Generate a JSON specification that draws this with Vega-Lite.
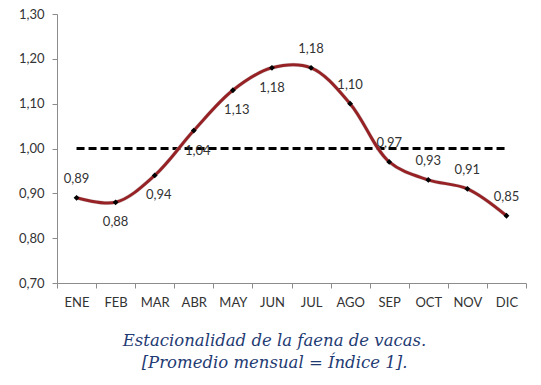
{
  "$schema": "https://vega.github.io/schema/vega-lite/v6.json",
  "width": 469,
  "height": 269,
  "padding": {"left": 18, "top": 8, "right": 8, "bottom": 8},
  "background": "white",
  "config": {
    "locale": {"number": {"decimal": ",", "thousands": ".", "grouping": [3], "currency": ["", " €"]}},
    "view": {"stroke": null},
    "font": "Lato"
  },
  "title": {
    "text": ["Estacionalidad de la faena de vacas.", "[Promedio mensual = Índice 1]."],
    "orient": "bottom",
    "anchor": "middle",
    "font": "DejaVu Serif",
    "fontStyle": "italic",
    "fontWeight": "normal",
    "fontSize": 16.5,
    "lineHeight": 22,
    "color": "#1F3B73",
    "offset": 24,
    "dx": -17
  },
  "data": {
    "values": [
      {"mes": "ENE", "indice": 0.89},
      {"mes": "FEB", "indice": 0.88},
      {"mes": "MAR", "indice": 0.94},
      {"mes": "ABR", "indice": 1.04},
      {"mes": "MAY", "indice": 1.13},
      {"mes": "JUN", "indice": 1.18},
      {"mes": "JUL", "indice": 1.18},
      {"mes": "AGO", "indice": 1.10},
      {"mes": "SEP", "indice": 0.97},
      {"mes": "OCT", "indice": 0.93},
      {"mes": "NOV", "indice": 0.91},
      {"mes": "DIC", "indice": 0.85}
    ]
  },
  "encoding": {
    "x": {
      "field": "mes",
      "type": "nominal",
      "sort": null,
      "scale": {"paddingInner": 0, "paddingOuter": 0},
      "axis": {
        "title": null,
        "labelAngle": 0,
        "labelFont": "Lato",
        "labelFontSize": 13,
        "labelColor": "#333333",
        "labelPadding": 8,
        "domainColor": "#8c8c8c",
        "tickColor": "#8c8c8c",
        "tickSize": 5,
        "tickBand": "extent",
        "grid": false
      }
    }
  },
  "layer": [
    {
      "mark": {"type": "line", "stroke": "#000000", "strokeWidth": 3, "strokeDash": [8, 4]},
      "encoding": {
        "y": {"datum": 1, "type": "quantitative"}
      }
    },
    {
      "mark": {"type": "line", "interpolate": "catmull-rom", "stroke": "#c8c8c8", "strokeWidth": 4, "opacity": 0.6, "dx": 1, "dy": 2},
      "encoding": {
        "y": {"field": "indice", "type": "quantitative"}
      }
    },
    {
      "mark": {"type": "line", "interpolate": "catmull-rom", "stroke": "#962226", "strokeWidth": 3},
      "encoding": {
        "y": {
          "field": "indice",
          "type": "quantitative",
          "scale": {"domain": [0.7, 1.3], "nice": false, "zero": false},
          "axis": {
            "title": null,
            "values": [0.7, 0.8, 0.9, 1.0, 1.1, 1.2, 1.3],
            "format": ".2f",
            "labelFont": "Lato",
            "labelFontSize": 13,
            "labelColor": "#333333",
            "labelPadding": 8,
            "domainColor": "#8c8c8c",
            "tickColor": "#8c8c8c",
            "tickSize": 5,
            "grid": false
          }
        }
      }
    },
    {
      "mark": {"type": "point", "shape": "diamond", "filled": true, "color": "#000000", "size": 34, "opacity": 1},
      "encoding": {
        "y": {"field": "indice", "type": "quantitative"}
      }
    },
    {
      "transform": [{"filter": {"field": "mes", "oneOf": ["ENE", "JUL", "AGO", "SEP", "OCT", "NOV", "DIC"]}}],
      "mark": {"type": "text", "fontSize": 13, "font": "Lato", "color": "#333333", "dy": -19},
      "encoding": {
        "y": {"field": "indice", "type": "quantitative"},
        "text": {"field": "indice", "type": "quantitative", "format": ".2f"}
      }
    },
    {
      "transform": [{"filter": {"field": "mes", "oneOf": ["FEB", "JUN"]}}],
      "mark": {"type": "text", "fontSize": 13, "font": "Lato", "color": "#333333", "dy": 20},
      "encoding": {
        "y": {"field": "indice", "type": "quantitative"},
        "text": {"field": "indice", "type": "quantitative", "format": ".2f"}
      }
    },
    {
      "transform": [{"filter": {"field": "mes", "oneOf": ["MAR", "ABR", "MAY"]}}],
      "mark": {"type": "text", "fontSize": 13, "font": "Lato", "color": "#333333", "dy": 20, "dx": 4},
      "encoding": {
        "y": {"field": "indice", "type": "quantitative"},
        "text": {"field": "indice", "type": "quantitative", "format": ".2f"}
      }
    }
  ]
}
